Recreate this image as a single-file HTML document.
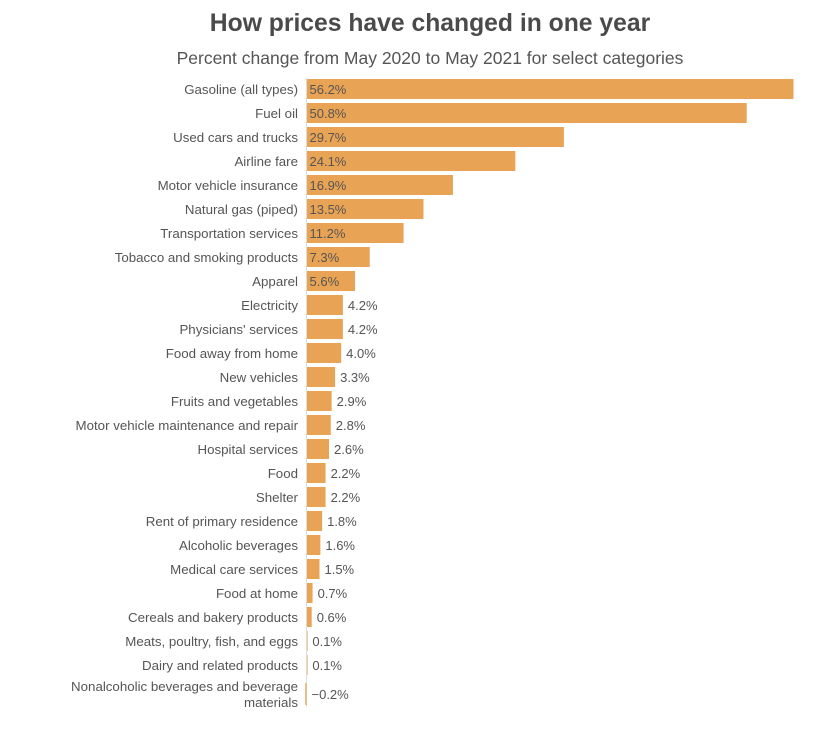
<!DOCTYPE html>
<html><head><meta charset="utf-8"><style>
body{margin:0;background:#fff;width:835px;height:726px;overflow:hidden;font-family:"Liberation Sans",sans-serif}
</style></head><body>
<svg width="835" height="726">
<text x="430" y="31" text-anchor="middle" font-size="24.7" font-weight="bold" fill="#4a4a4a">How prices have changed in one year</text>
<text x="430" y="64" text-anchor="middle" font-size="17.5" fill="#555">Percent change from May 2020 to May 2021 for select categories</text>
<g id="plot"></g>
</svg>
<script>
const categories=["Gasoline (all types)","Fuel oil","Used cars and trucks","Airline fare","Motor vehicle insurance","Natural gas (piped)","Transportation services","Tobacco and smoking products","Apparel","Electricity","Physicians' services","Food away from home","New vehicles","Fruits and vegetables","Motor vehicle maintenance and repair","Hospital services","Food","Shelter","Rent of primary residence","Alcoholic beverages","Medical care services","Food at home","Cereals and bakery products","Meats, poultry, fish, and eggs","Dairy and related products","Nonalcoholic beverages and beverage|materials"];
const values=[56.2,50.8,29.7,24.1,16.9,13.5,11.2,7.3,5.6,4.2,4.2,4.0,3.3,2.9,2.8,2.6,2.2,2.2,1.8,1.6,1.5,0.7,0.6,0.1,0.1,-0.2];
const valueLabels=["56.2%","50.8%","29.7%","24.1%","16.9%","13.5%","11.2%","7.3%","5.6%","4.2%","4.2%","4.0%","3.3%","2.9%","2.8%","2.6%","2.2%","2.2%","1.8%","1.6%","1.5%","0.7%","0.6%","0.1%","0.1%","\u22120.2%"];
const NS="http://www.w3.org/2000/svg";
const g=document.getElementById('plot');
const x0=306.5, k=487/56.2;
const xs=v=>x0+v*k;
const yc=i=>i<25?89+i*24:694;
function el(t,a){const e=document.createElementNS(NS,t);for(const n in a)e.setAttribute(n,a[n]);g.appendChild(e);return e;}
const ax=el('line',{x1:x0,x2:x0,y1:78,y2:707,stroke:'#ddd','stroke-width':1});


categories.forEach((c,i)=>{
  const v=values[i],y=yc(i),h=i<25?20:22;
  const a=Math.min(xs(0),xs(v)),b=Math.max(xs(0),xs(v));
  const r=el('rect',{x:a+0.5,y:y-h/2,width:Math.max(b-a-0.5,0.6),height:h,fill:'#e8a354'});
  
  
  const lines=c.split('|');
  lines.forEach((ln,j)=>{
    const t=el('text',{x:298,y:y+5+(j-(lines.length-1)/2)*16,'text-anchor':'end','font-size':13.3,fill:'#555'});
    t.textContent=ln;
    
    
  });
  const inside=v>=5;
  const lx=inside?x0+3:Math.max(xs(v),x0)+5;
  const t=el('text',{x:lx,y:y+5,'font-size':13,fill:'#555'});
  t.textContent=valueLabels[i];
  
  
});
</script>
</body></html>
